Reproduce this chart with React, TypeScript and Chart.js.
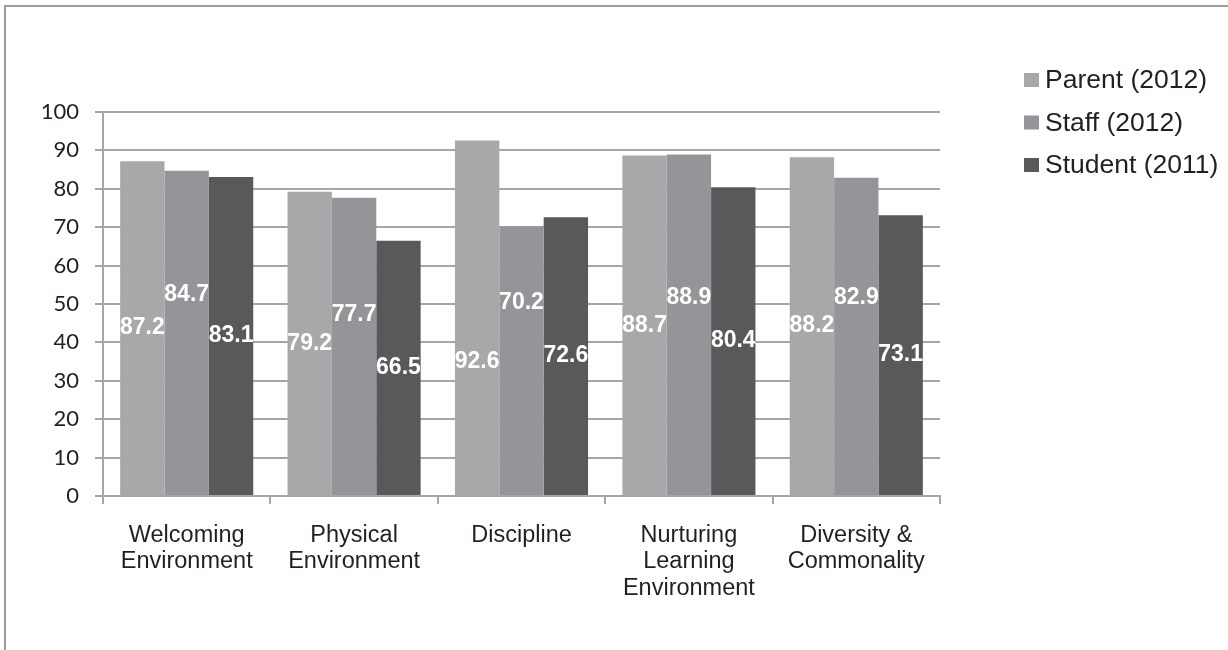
import React, { useEffect, useRef } from "react";
import { Chart, registerables } from "chart.js";

Chart.register(...registerables);

const categories: string[][] = [
  ["Welcoming", "Environment"],
  ["Physical", "Environment"],
  ["Discipline"],
  ["Nurturing", "Learning", "Environment"],
  ["Diversity &", "Commonality"],
];

const seriesNames = ["Parent (2012)", "Staff (2012)", "Student (2011)"];
const parent2012 = [87.2, 79.2, 92.6, 88.7, 88.2];
const staff2012 = [84.7, 77.7, 70.2, 88.9, 82.9];
const student2011 = [83.1, 66.5, 72.6, 80.4, 73.1];
const yTicks = [0, 10, 20, 30, 40, 50, 60, 70, 80, 90, 100];

const seriesColors = ["#a7a8aa", "#939598", "#58595b"];

// Vertical nudges (px) for the value labels, relative to the bar middle.
const labelNudges = [
  [0, 0, 44, 0, 0],
  [-38, -32, -58, -27, -39],
  [0, 0, 0, 0, 0],
];

const frameAndLegend = {
  id: "frameAndLegend",
  beforeDraw(chart: any) {
    const { ctx } = chart;
    ctx.save();
    ctx.fillStyle = "#ffffff";
    ctx.fillRect(0, 0, chart.width, chart.height);
    ctx.strokeStyle = "#9b9b9b";
    ctx.lineWidth = 2;
    ctx.strokeRect(5, 6, chart.width + 20, chart.height + 20);
    ctx.restore();
  },
  afterDraw(chart: any) {
    const { ctx } = chart;
    ctx.save();
    ctx.font = "26.5px 'Liberation Sans', Arial, sans-serif";
    ctx.textBaseline = "middle";
    ctx.textAlign = "left";
    chart.data.datasets.forEach((ds: any, i: number) => {
      const y = 80 + i * 42.5;
      ctx.fillStyle = ds.backgroundColor;
      ctx.fillRect(1024, y - 7, 15, 14);
      ctx.fillStyle = "#231f20";
      ctx.fillText(ds.label, 1045, y + 1);
    });
    ctx.restore();
  },
};

const valueLabels = {
  id: "valueLabels",
  afterDatasetsDraw(chart: any) {
    const { ctx } = chart;
    ctx.save();
    ctx.font = "bold 23px 'Liberation Sans', Arial, sans-serif";
    ctx.fillStyle = "#ffffff";
    ctx.textAlign = "center";
    ctx.textBaseline = "middle";
    chart.data.datasets.forEach((ds: any, di: number) => {
      const meta = chart.getDatasetMeta(di);
      meta.data.forEach((bar: any, i: number) => {
        const v = ds.data[i];
        const y = (bar.y + bar.base) / 2 + labelNudges[di][i];
        ctx.fillText(v.toFixed(1), bar.x, y);
      });
    });
    ctx.restore();
  },
};

export default function App() {
  const canvasRef = useRef<HTMLCanvasElement | null>(null);

  useEffect(() => {
    document.body.style.margin = "0";
    const canvas = canvasRef.current;
    if (!canvas) return;
    const values = [parent2012, staff2012, student2011];
    const chart = new Chart(canvas, {
      type: "bar",
      data: {
        labels: categories,
        datasets: seriesNames.map((name, i) => ({
          label: name,
          data: values[i],
          backgroundColor: seriesColors[i],
          borderWidth: 0,
          barPercentage: 1,
          categoryPercentage: 0.795,
        })),
      },
      options: {
        responsive: false,
        animation: false,
        layout: { padding: { top: 112, right: 288, left: 0, bottom: 0 } },
        plugins: {
          legend: { display: false },
          tooltip: { enabled: false },
        },
        scales: {
          x: {
            offset: true,
            grid: {
              offset: true,
              drawOnChartArea: false,
              drawTicks: true,
              tickLength: 8,
              color: "#a6a6a6",
              lineWidth: 2,
            },
            border: { display: true, color: "#a6a6a6", width: 2 },
            ticks: {
              color: "#231f20",
              font: { family: "'Liberation Sans', Arial, sans-serif", size: 23.5, lineHeight: 1.13 },
              padding: 18,
              maxRotation: 0,
              autoSkip: false,
            },
            afterFit(scale: any) {
              scale.height = 154;
            },
          },
          y: {
            min: 0,
            max: 100,
            afterBuildTicks(scale: any) {
              scale.ticks = yTicks.map((v) => ({ value: v }));
            },
            grid: {
              color: "#a6a6a6",
              lineWidth: 2,
              tickLength: 8,
            },
            border: { display: true, color: "#a6a6a6", width: 2 },
            ticks: {
              color: "#231f20",
              font: { family: "Lato, 'Open Sans', sans-serif", size: 22 },
              padding: 16,
            },
            afterFit(scale: any) {
              scale.width = 103;
            },
          },
        },
      },
      plugins: [frameAndLegend, valueLabels],
    });
    return () => chart.destroy();
  }, []);

  return (
    <div style={{ width: 1228, height: 650 }}>
      <canvas ref={canvasRef} width={1228} height={650} style={{ display: "block" }} />
    </div>
  );
}
